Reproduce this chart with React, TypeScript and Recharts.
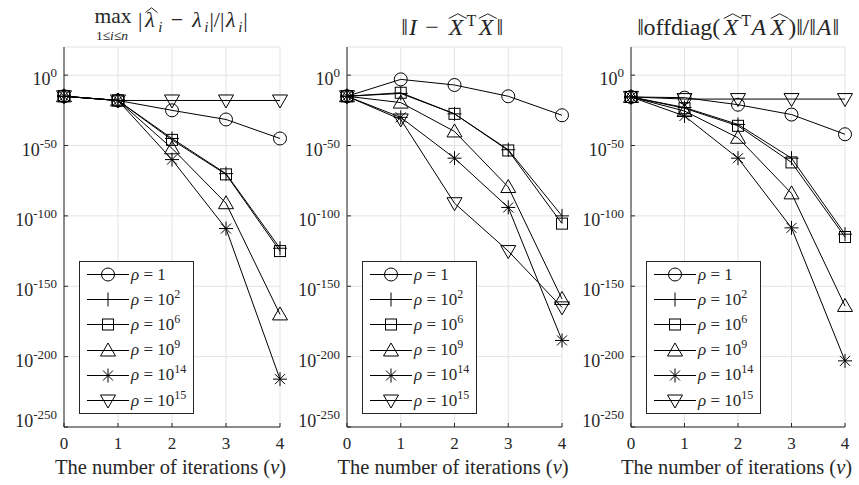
import React from 'react'
import { LineChart, Line, XAxis, YAxis, CartesianGrid, Legend, Label } from 'recharts'

const FONT = '"Liberation Serif", "Times New Roman", "DejaVu Serif", serif'
const INK = '#262626'

const iterations = [0, 1, 2, 3, 4]
const xTicks = [0, 1, 2, 3, 4]
const yTicks = [-250, -200, -150, -100, -50, 0]

// legend entries: rho = 10^k
const rhoExponents = [0, 2, 6, 9, 14, 15]
const markerShapes = ['circle', 'plus', 'square', 'triangle', 'star', 'down']

// log10 of the plotted quantity
// left: max relative eigenvalue error
const eigRho1 = [-15, -18, -25, -31.5, -45]
const eigRho2 = [-15, -18, -45, -70, -123]
const eigRho6 = [-15, -18, -46, -70.5, -125]
const eigRho9 = [-15, -18, -52, -91, -170]
const eigRho14 = [-15, -18, -60, -109, -216]
const eigRho15 = [-15, -18, -18, -18, -18]

// middle: orthogonality ||I - X^T X||
const orthRho1 = [-15, -3, -7, -15, -28.5]
const orthRho2 = [-15, -13, -27.5, -53, -100]
const orthRho6 = [-15, -12.5, -27.5, -53.5, -105.5]
const orthRho9 = [-15, -19.5, -40, -79.5, -159]
const orthRho14 = [-15, -30, -59, -94, -188.5]
const orthRho15 = [-15, -31.5, -91, -125, -165]

// right: ||offdiag(X^T A X)|| / ||A||
const offRho1 = [-15.5, -16, -21, -28, -42]
const offRho2 = [-15.5, -23, -35, -59, -113]
const offRho6 = [-15.5, -23.5, -36, -62, -115]
const offRho9 = [-15.5, -25.5, -44.5, -84, -164]
const offRho14 = [-15.5, -29, -59, -108.5, -203]
const offRho15 = [-15.5, -17, -17, -17, -17]

function Marker({ cx, cy, shape }: { cx: number; cy: number; shape: string }) {
  const common = { fill: 'none', stroke: '#000', strokeWidth: 1 }
  if (cx == null || cy == null) return null
  switch (shape) {
    case 'circle':
      return <circle cx={cx} cy={cy} r={6.5} {...common} />
    case 'plus':
      return <path d={`M${cx - 7},${cy}H${cx + 7}M${cx},${cy - 7}V${cy + 7}`} {...common} />
    case 'square':
      return <rect x={cx - 5.5} y={cy - 5.5} width={11} height={11} {...common} />
    case 'triangle':
      return <path d={`M${cx},${cy - 7.5}L${cx + 7.5},${cy + 5.5}L${cx - 7.5},${cy + 5.5}Z`} {...common} />
    case 'down':
      return <path d={`M${cx},${cy + 7.5}L${cx + 7.5},${cy - 5.5}L${cx - 7.5},${cy - 5.5}Z`} {...common} />
    case 'star':
      return (
        <path
          d={`M${cx - 7},${cy}H${cx + 7}M${cx},${cy - 7}V${cy + 7}M${cx - 5},${cy - 5}L${cx + 5},${cy + 5}M${cx - 5},${cy + 5}L${cx + 5},${cy - 5}`}
          {...common}
        />
      )
    default:
      return null
  }
}

const PowerTick = (props: any) => {
  const { x, y, payload } = props
  // matlab nudges the bottom label up so it sits above the axis
  const base = payload.value === -250 ? 0 : 10
  return (
    <text x={x} y={y} textAnchor="end" fill={INK} fontFamily={FONT}>
      <tspan fontSize={18} dy={base}>10</tspan>
      <tspan fontSize={13} dy={-8}>{payload.value}</tspan>
    </text>
  )
}

const renderLegend = () => (
  <div style={{ border: `1px solid ${INK}`, background: '#fff', width: 113, fontFamily: FONT, color: INK }}>
    {rhoExponents.map((k, i) => (
      <div key={k} style={{ display: 'flex', alignItems: 'center', height: 25.2 }}>
        <svg width={51} height={25} style={{ flex: 'none' }}>
          <line x1={7} x2={49} y1={12.5} y2={12.5} stroke="#000" />
          <Marker cx={28} cy={12.5} shape={markerShapes[i]} />
        </svg>
        <span style={{ fontSize: 17, whiteSpace: 'nowrap' }}>
          <i>ρ</i> = {k === 0 ? '1' : <>10<span style={{ fontSize: 12, verticalAlign: 'super', lineHeight: 0 }}>{k}</span></>}
        </span>
      </div>
    ))}
  </div>
)

// --- little math typesetting helpers for the titles ---
const Box = ({ w, it, children, style }: { w: number; it?: boolean; children: React.ReactNode; style?: React.CSSProperties }) => (
  <span style={{ display: 'inline-block', width: w, textAlign: 'center', fontStyle: it ? 'italic' : 'normal', ...style }}>{children}</span>
)
const Sub = ({ children }: { children: React.ReactNode }) => (
  <Box w={6} it style={{ fontSize: 15, position: 'relative', top: 5 }}>{children}</Box>
)
const Sup = ({ children }: { children: React.ReactNode }) => (
  <Box w={9} style={{ fontSize: 16, position: 'relative', top: -9 }}>{children}</Box>
)
const Hat = ({ w, children }: { w: number; children: React.ReactNode }) => (
  <span style={{ position: 'relative', display: 'inline-block', width: w, textAlign: 'center', fontStyle: 'italic' }}>
    {children}
    <svg width={w - 2} height={6} style={{ position: 'absolute', left: 3, top: -2, overflow: 'visible' }}>
      <path d={`M0.5,5.5L${(w - 2) / 2},0.8L${w - 2.5},5.5`} fill="none" stroke={INK} strokeWidth={1} />
    </svg>
  </span>
)
const Norm = () => <span style={{ display: 'inline-block', letterSpacing: -0.5 }}>‖</span>

const titleBase = { position: 'absolute', fontFamily: FONT, color: INK, whiteSpace: 'nowrap', lineHeight: 1 } as const

const TitleEig = () => (
  <>
    {/* max with its range stacked underneath, as one text */}
    <svg width={50} height={44} style={{ position: 'absolute', left: 88, top: 0 }}>
      <text fontFamily={FONT} fill={INK}>
        <tspan x={25} y={23} textAnchor="middle" fontSize={21.5}>max</tspan>
        <tspan x={24} y={40} textAnchor="middle" fontSize={13.5}>
          1≤<tspan fontStyle="italic">i</tspan>≤<tspan fontStyle="italic">n</tspan>
        </tspan>
      </text>
    </svg>
    <div style={{ ...titleBase, left: 138, top: 9, fontSize: 22 }}>
      |<Hat w={15}>λ</Hat>
      <Sub>i</Sub>
      <Box w={27}>−</Box>
      <Box w={13} it>λ</Box>
      <Sub>i</Sub>|/|<Box w={13} it>λ</Box>
      <Sub>i</Sub>|
    </div>
  </>
)

const TitleOrth = () => (
  <div style={{ ...titleBase, left: 452, top: 15, transform: 'translateX(-50%)', fontSize: 24 }}>
    <Norm />
    <Box w={11} it>I</Box>
    <Box w={27}>−</Box>
    <Hat w={21}>X</Hat>
    <Sup>T</Sup>
    <Hat w={21}>X</Hat>
    <Norm />
  </div>
)

const TitleOff = () => (
  <div style={{ ...titleBase, left: 738, top: 15, transform: 'translateX(-50%)', fontSize: 24 }}>
    <Norm />
    offdiag(
    <Hat w={21}>X</Hat>
    <Sup>T</Sup>
    <Box w={17} it>A</Box>
    <Hat w={21}>X</Hat>)<Norm />/<Norm />
    <Box w={17} it>A</Box>
    <Norm />
  </div>
)

const panels = [
  { key: 'eig', series: [eigRho1, eigRho2, eigRho6, eigRho9, eigRho14, eigRho15], left: 0, width: 290, ml: 4, mr: 10 },
  { key: 'orth', series: [orthRho1, orthRho2, orthRho6, orthRho9, orthRho14, orthRho15], left: 285, width: 290, ml: 2, mr: 13 },
  { key: 'off', series: [offRho1, offRho2, offRho6, offRho9, offRho14, offRho15], left: 570, width: 289, ml: 1, mr: 14 },
]

function Panel({ panel }: { panel: (typeof panels)[number] }) {
  const data = iterations.map((nu, i) => {
    const row: any = { nu }
    panel.series.forEach((s, j) => {
      row[`s${j}`] = s[i]
    })
    return row
  })
  const plotLeft = panel.ml + 60
  const plotWidth = panel.width - panel.ml - panel.mr - 60
  const labelX = plotLeft + plotWidth / 2 - 1.5

  return (
    <div style={{ position: 'absolute', left: panel.left, top: 0, width: panel.width, height: 485 }}>
      <LineChart width={panel.width} height={485} data={data} margin={{ top: 47, right: panel.mr, bottom: 8, left: panel.ml }}>
        <CartesianGrid stroke="#e3e3e3" />
        <XAxis
          dataKey="nu"
          type="number"
          domain={[0, 4]}
          ticks={xTicks}
          height={50}
          stroke={INK}
          tickSize={-4}
          tickMargin={14}
          tick={{ fontSize: 17, fill: INK, fontFamily: FONT }}
        >
          <Label
            position="insideBottom"
            content={() => (
              <text x={labelX} y={474} textAnchor="middle" fill={INK} fontFamily={FONT} fontSize={20.5}>
                The number of iterations (<tspan fontStyle="italic">ν</tspan>)
              </text>
            )}
          />
        </XAxis>
        <YAxis
          type="number"
          domain={[-250, 20]}
          ticks={yTicks}
          width={60}
          stroke={INK}
          tickSize={-4}
          tickMargin={11}
          tick={<PowerTick />}
          allowDataOverflow
        />
        <Legend
          layout="vertical"
          align="center"
          verticalAlign="middle"
          content={renderLegend}
          wrapperStyle={{ left: plotLeft + 15, top: 261, width: 'auto' }}
        />
        {panel.series.map((_, j) => (
          <Line
            key={j}
            dataKey={`s${j}`}
            type="linear"
            stroke="#000"
            strokeWidth={1}
            isAnimationActive={false}
            dot={(p: any) => <Marker key={p.index} cx={p.cx} cy={p.cy} shape={markerShapes[j]} />}
            activeDot={false}
          />
        ))}
      </LineChart>
    </div>
  )
}

export default function App() {
  return (
    <div style={{ position: 'absolute', left: 0, top: 0, width: 859, height: 485, background: '#fff', overflow: 'hidden' }}>
      {panels.map((p) => (
        <Panel key={p.key} panel={p} />
      ))}
      <TitleEig />
      <TitleOrth />
      <TitleOff />
    </div>
  )
}
